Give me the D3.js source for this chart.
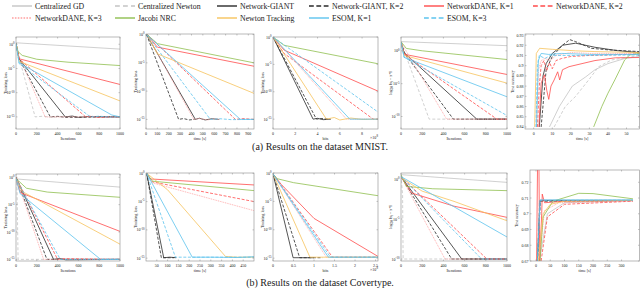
<!DOCTYPE html>
<html>
<head>
<meta charset="utf-8">
<script src="https://cdn.jsdelivr.net/npm/d3@7"></script>
<style>
body{margin:0;background:#fff;}
svg text{font-family:"Liberation Serif","DejaVu Serif",serif;fill:#222;}
.frame{fill:none;stroke:#8a8a8a;stroke-width:0.6;}
.tick{stroke:#8a8a8a;stroke-width:0.5;}
</style>
</head>
<body>
<script>
var width = 640, height = 291;

// series, legend order
var seriesKeys   = ["gd","newton","giant","giant2","dane1","dane2","dane3","jacobi","tracking","esom1","esom3"];
var seriesNames  = ["Centralized GD","Centralized Newton","Network-GIANT","Network-GIANT, K=2","NetworkDANE, K=1",
                    "NetworkDANE, K=2","NetworkDANE, K=3","Jacobi NRC","Newton Tracking","ESOM, K=1","ESOM, K=3"];
var seriesColors = ["#c4c4c4","#c4c4c4","#2a2a2a","#2a2a2a","#ff4b4b","#ff4b4b","#ffa0a0","#8fbf4f","#f6c35c","#5cc3ee","#5cc3ee"];
var seriesDash   = ["","3,2","","3,1.6","","3,1.6","1,0.8","","","","3,1.6"];

// ---------- (a) MNIST ----------
var mnistIter = {
  gd:      [[0,2],[1000,0.1]],
  newton:  [[0,1.5],[20,1e-2],[184,1e-15],[260,1.4e-15],[340,0.8e-15],[450,1.2e-15],[600,0.9e-15],[1000,1e-15]],
  giant:   [[0,1.5],[30,1e-3],[474,1e-15],[540,1.5e-15],[600,0.8e-15],[700,1.2e-15],[1000,1e-15]],
  giant2:  [[0,1.5],[30,1e-3],[330,1e-15],[400,1.3e-15],[480,0.8e-15],[1000,1e-15]],
  dane1:   [[0,1.5],[30,1e-3],[1000,5e-9]],
  dane2:   [[0,1.5],[30,1e-3],[670,1e-15],[720,1.5e-15],[780,0.8e-15],[1000,1e-15]],
  dane3:   [[0,1.5],[20,1e-2],[280,1e-15],[1000,1e-15]],
  jacobi:  [[0,1.5],[20,0.03],[60,5e-3],[200,8e-4],[500,2e-4],[1000,4e-5]],
  tracking:[[0,1.5],[30,3e-4],[1000,2e-12]],
  esom1:   [[0,1.5],[30,1.5e-4],[920,2.5e-15],[1000,1e-15]],
  esom3:   [[0,1.5],[30,1e-4],[716,1e-15],[800,1.4e-15],[900,0.9e-15],[1000,1e-15]]
};
var mnistTime = {
  giant:   [[5,1],[434,1e-15],[470,1.6e-15],[520,0.8e-15],[580,1.3e-15],[640,1e-15]],
  giant2:  [[5,1],[287,1e-15],[330,1.4e-15],[380,0.8e-15],[430,1e-15]],
  dane1:   [[10,1],[100,6e-3],[950,2.5e-6]],
  dane2:   [[10,1],[786,1e-15],[850,1.4e-15],[950,1e-15]],
  dane3:   [[10,1],[420,1e-15],[470,1.5e-15],[540,0.8e-15],[600,1.3e-15],[650,1e-15]],
  jacobi:  [[10,1],[100,0.025],[950,1e-5]],
  tracking:[[10,1],[100,4e-4],[950,4e-11]],
  esom1:   [[5,1],[830,1e-15],[950,1e-15]],
  esom3:   [[5,1],[566,1e-15],[650,1.3e-15],[750,0.9e-15],[950,1e-15]]
};
var mnistBits = {
  giant:   [[0,1],[3.6,1e-15],[4.0,1.4e-15],[4.5,0.8e-15],[5.2,1e-15]],
  giant2:  [[0,1],[3.9,1e-15],[4.4,1.3e-15],[5.0,1e-15]],
  dane1:   [[0,1],[1,4e-3],[9.43,1.3e-10]],
  dane2:   [[0,1],[1,1e-3],[9.0,1e-15],[9.43,1e-15]],
  dane3:   [[0,1],[6.6,1e-15],[9.43,1e-15]],
  jacobi:  [[0,1],[1,0.03],[9.43,1.3e-5]],
  tracking:[[0,1],[4.8,1e-15],[5.5,2e-15],[6,0.7e-15],[7,1.6e-15],[8,0.9e-15],[9.43,1e-15]],
  esom1:   [[0,1],[6.9,1e-15],[9.43,1e-15]],
  esom3:   [[0,1],[9.43,2e-14]]
};
var mnistDist = {
  gd:      [[0,25],[1000,6]],
  newton:  [[0,20],[266,4e-11],[1000,4e-11]],
  giant:   [[0,20],[30,0.5],[715,4e-11],[1000,4e-11]],
  giant2:  [[0,20],[30,0.5],[494,4e-11],[1000,4e-11]],
  dane1:   [[0,20],[30,0.3],[1000,2.5e-4]],
  dane2:   [[0,20],[30,0.3],[905,4e-11],[1000,4e-11]],
  dane3:   [[0,20],[430,4e-11],[1000,4e-11]],
  jacobi:  [[0,25],[50,2.3],[200,1],[1000,0.047]],
  tracking:[[0,20],[30,0.2],[1000,1.2e-5]],
  esom1:   [[0,20],[30,0.1],[1000,1e-7]],
  esom3:   [[0,20],[30,0.1],[1000,1.4e-10]]
};
var mnistAcc = {
  gd:      [[8.5,0.84],[13.8,0.86],[20.8,0.88],[28,0.889],[33,0.896],[40,0.902],[49,0.907],[57,0.909]],
  newton:  [[11,0.84],[17,0.86],[22.6,0.87],[29.6,0.886],[35,0.899],[42,0.9056],[57,0.91]],
  giant:   [[3,0.84],[5,0.89],[6.7,0.902],[10,0.912],[15.5,0.92],[22.6,0.922],[33,0.918],[45,0.9147],[57,0.9128]],
  giant2:  [[4,0.84],[6.7,0.896],[10,0.909],[15.5,0.92],[19.4,0.9255],[22.6,0.9235],[31,0.917],[40,0.9155],[57,0.9138]],
  dane1:   [[2.8,0.84],[4,0.883],[5.8,0.891],[7,0.876],[8.1,0.867],[9.3,0.88],[11,0.886],[12.9,0.894],[14,0.886],
            [15.5,0.896],[19,0.899],[26,0.902],[33,0.905],[44,0.9077],[57,0.908]],
  dane2:   [[2,0.84],[3,0.88],[4,0.9],[5.5,0.905],[7,0.895],[8.5,0.903],[10,0.897],[12,0.905],[15,0.907],[20,0.909],[30,0.91],[57,0.9115]],
  dane3:   [[1.5,0.84],[2.5,0.895],[4,0.905],[6,0.907],[9,0.905],[12,0.91],[20,0.913],[30,0.912],[57,0.912]],
  jacobi:  [[32.3,0.84],[36.7,0.86],[40,0.873],[43.7,0.886],[46.4,0.896],[49,0.9056],[51.7,0.9105],[57,0.912]],
  tracking:[[0.5,0.84],[1.4,0.912],[3.2,0.917],[10,0.916],[22.6,0.9145],[33,0.9138],[57,0.9128]],
  esom1:   [[1.5,0.84],[2.5,0.905],[4,0.912],[8,0.911],[15,0.912],[30,0.911],[57,0.911]],
  esom3:   [[1.2,0.84],[2,0.9],[3,0.91],[6,0.907],[9,0.91],[15,0.91],[30,0.91],[57,0.9105]]
};

// ---------- (b) Covertype ----------
var covIter = {
  gd:      [[0,0.5],[1000,0.016]],
  newton:  [[0,1],[10,1e-2],[20,1e-15],[1000,1e-15]],
  giant:   [[0,1],[361,1e-15],[420,1.4e-15],[480,0.8e-15],[1000,1e-15]],
  giant2:  [[0,1],[297,1e-15],[1000,1e-15]],
  dane1:   [[0,0.6],[40,1.6e-3],[1000,1.3e-10]],
  dane2:   [[0,1],[400,1e-15],[460,1.4e-15],[1000,1e-15]],
  dane3:   [[0,1],[265,1e-15],[1000,1e-15]],
  jacobi:  [[0,0.6],[100,0.01],[300,2e-3],[1000,2.2e-4]],
  tracking:[[0,0.6],[60,2.5e-3],[1000,6e-13]],
  esom1:   [[0,0.6],[40,1e-3],[813,1e-15],[1000,1e-15]],
  esom3:   [[0,0.6],[426,1e-15],[1000,1e-15]]
};
var covTime = {
  giant:   [[3,1],[82,1.2e-15],[110,1.5e-15],[140,1.2e-15]],
  giant2:  [[3,1],[71,1.2e-15],[130,1.2e-15]],
  dane1:   [[3,1],[20,0.1],[500,8.7e-3]],
  dane2:   [[3,1],[30,0.03],[500,1e-5]],
  dane3:   [[3,1],[30,0.02],[500,2.5e-7]],
  jacobi:  [[3,1],[30,0.04],[500,8.7e-4]],
  tracking:[[3,1],[100,1.2e-3],[368,2e-15],[420,1.5e-15],[500,1.5e-15]],
  esom1:   [[3,1],[214,1.5e-15],[300,1.5e-15],[420,1.3e-15],[500,1.8e-15]],
  esom3:   [[3,1],[136,1.5e-15],[500,1.5e-15]]
};
var covBits = {
  giant:   [[0,0.7],[0.49,1.2e-15],[1.0,1.2e-15]],
  giant2:  [[0,0.7],[0.65,1.2e-15],[1.2,1.2e-15]],
  dane1:   [[0,0.7],[0.2,0.01],[1,1e-8],[2.56,2e-15]],
  dane2:   [[0,0.7],[1.45,1.5e-15],[2.56,1.5e-15]],
  dane3:   [[0,0.7],[1.3,1.5e-15],[2.56,1.5e-15]],
  jacobi:  [[0,0.7],[0.1,0.1],[0.5,0.02],[2.56,1e-4]],
  tracking:[[0,0.7],[0.9,1.5e-15],[2.56,1.5e-15]],
  esom1:   [[0,0.7],[1.35,1.5e-15],[2.56,1.5e-15]],
  esom3:   [[0,0.7],[1.4,1.5e-15],[2.56,1.5e-15]]
};
var covDist = {
  gd:      [[0,3.5],[1000,0.38]],
  newton:  [[0,3],[15,1e-2],[20,1e-10],[1000,1e-10]],
  giant:   [[0,2],[573,1e-10],[1000,1e-10]],
  giant2:  [[0,2],[478,1e-10],[1000,1e-10]],
  dane1:   [[0,2],[100,0.018],[500,4e-4],[1000,1.6e-5]],
  dane2:   [[0,2],[810,1e-10],[1000,1e-10]],
  dane3:   [[0,2],[415,1e-10],[1000,1e-10]],
  jacobi:  [[0,3.5],[50,0.12],[300,0.06],[1000,0.035]],
  tracking:[[0,1.5],[200,0.03],[500,1.6e-3],[1000,6e-6]],
  esom1:   [[0,2],[1000,5.6e-8]],
  esom3:   [[0,2],[760,1e-10],[1000,1e-10]]
};
var covAcc = {
  jacobi:  [[14,0.67],[25,0.698],[60,0.708],[150,0.713],[200,0.7128],[340,0.7095]],
  tracking:[[8,0.67],[25,0.7],[50,0.706],[100,0.708],[340,0.7085]],
  giant:   [[5,0.67],[14,0.7085],[340,0.7085]],
  giant2:  [[6,0.67],[15,0.708],[340,0.7083]],
  dane1:   [[2,0.67],[6,0.74],[10,0.74],[13,0.67],[20,0.70],[22,0.7125],[30,0.707],[100,0.708],[340,0.7083]],
  dane2:   [[18,0.67],[40,0.698],[100,0.706],[340,0.708]],
  dane3:   [[10,0.67],[30,0.702],[80,0.707],[340,0.708]],
  gd:      [[12,0.67],[40,0.7],[100,0.707],[340,0.7085]],
  newton:  [[4,0.67],[12,0.708],[340,0.7085]],
  esom1:   [[5,0.67],[14,0.7088],[340,0.7088]],
  esom3:   [[5,0.67],[15,0.7085],[340,0.7086]]
};

var logTicks = [1,1e-5,1e-10,1e-15];
var distTicks = [1,1e-5,1e-10];
var iterTicks = [0,200,400,600,800,1000];

var svg = d3.select("body").append("svg").attr("width", width).attr("height", height);

// legend
var legendRows = [[0,1,2,3,4,5],[6,7,8,9,10]];
var legendX = [12,115,217,309,424,533];
var legendY = [6,18];
legendRows.forEach(function(row, r){
  row.forEach(function(si, c){
    var g = svg.append("g").attr("transform","translate(" + legendX[c] + "," + legendY[r] + ")");
    g.append("line").attr("x1",0).attr("x2",20).attr("y1",0).attr("y2",0)
      .attr("stroke",seriesColors[si]).attr("stroke-width",1.4)
      .attr("stroke-dasharray",seriesDash[si] ? seriesDash[si].split(",").map(function(d){return d*1.6;}).join(",") : null);
    g.append("text").attr("x",23).attr("y",2.6).attr("font-size",7.8).text(seriesNames[si]);
  });
});

function powLabel(sel, e){
  sel.text("10");
  sel.append("tspan").attr("dy",-1.6).attr("font-size",3).text(e);
}

var clipId = 0;
function drawPanel(cfg){
  var x = d3.scaleLinear().domain(cfg.xd).range([cfg.l, cfg.r]);
  var y = (cfg.ylog ? d3.scaleLog() : d3.scaleLinear()).domain(cfg.yd).range([cfg.b, cfg.t]);
  var g = svg.append("g");
  var id = "clip" + (clipId++);
  g.append("clipPath").attr("id", id).append("rect")
    .attr("x", cfg.l).attr("y", cfg.t).attr("width", cfg.r - cfg.l).attr("height", cfg.b - cfg.t);

  var line = d3.line().x(function(d){return x(d[0]);}).y(function(d){return y(d[1]);});
  var lines = g.append("g").attr("clip-path","url(#" + id + ")");
  seriesKeys.forEach(function(k, i){
    if(!cfg.data[k]) return;
    lines.append("path").attr("d", line(cfg.data[k])).attr("fill","none")
      .attr("stroke", seriesColors[i]).attr("stroke-width", 0.8)
      .attr("stroke-dasharray", seriesDash[i] || null);
  });

  // ticks
  cfg.xt.forEach(function(v){
    var px = x(v);
    g.append("line").attr("class","tick").attr("x1",px).attr("x2",px).attr("y1",cfg.b).attr("y2",cfg.b-1.5);
    g.append("line").attr("class","tick").attr("x1",px).attr("x2",px).attr("y1",cfg.t).attr("y2",cfg.t+1.5);
    g.append("text").attr("x",px).attr("y",cfg.b+5.5).attr("font-size",4).attr("text-anchor","middle")
      .text(cfg.xf ? cfg.xf(v) : v);
  });
  cfg.yt.forEach(function(v){
    var py = y(v);
    g.append("line").attr("class","tick").attr("x1",cfg.l).attr("x2",cfg.l+1.5).attr("y1",py).attr("y2",py);
    g.append("line").attr("class","tick").attr("x1",cfg.r).attr("x2",cfg.r-1.5).attr("y1",py).attr("y2",py);
    var t = g.append("text").attr("x",cfg.l-1.5).attr("y",py+1.5).attr("font-size",4).attr("text-anchor","end");
    if(cfg.ylog) powLabel(t, Math.round(Math.log10(v)));
    else t.text(cfg.yf(v));
  });
  g.append("rect").attr("class","frame").attr("x",cfg.l).attr("y",cfg.t)
    .attr("width",cfg.r-cfg.l).attr("height",cfg.b-cfg.t);

  g.append("text").attr("x",(cfg.l+cfg.r)/2).attr("y",cfg.b+10.5).attr("font-size",4)
    .attr("text-anchor","middle").text(cfg.xl);
  if(cfg.xm){
    var m = g.append("text").attr("x",cfg.r-4).attr("y",cfg.b+10).attr("font-size",4).attr("text-anchor","middle").text("\u00d710");
    m.append("tspan").attr("dy",-1.6).attr("font-size",3).text(cfg.xm);
  }
  var yl = g.append("text").attr("transform","translate(" + (cfg.l - cfg.yo) + "," + ((cfg.t+cfg.b)/2) + ") rotate(-90)")
    .attr("font-size",4.2).attr("text-anchor","middle");
  if(cfg.dist){
    yl.text("log");
    yl.append("tspan").attr("dy",1).attr("font-size",3).text("10");
    yl.append("tspan").attr("dy",-1).text(" \u2016x");
    yl.append("tspan").attr("dy",1).attr("font-size",3).text("t");
    yl.append("tspan").attr("dy",-1).text(" \u2212 x*\u2016");
  } else yl.text(cfg.yl);
}

var acc = function(v){ return d3.format(".2~f")(v); };

// row (a)
drawPanel({l:16,r:120,t:37,b:129, xd:[0,1000], yd:[Math.pow(10,-17.5),Math.pow(10,1.5)], ylog:true,
  data:mnistIter, xt:iterTicks, yt:logTicks, xl:"Iterations", yl:"Training loss", yo:9});
drawPanel({l:146,r:254,t:34,b:129, xd:[0,950], yd:[Math.pow(10,-16.7),Math.pow(10,0.1)], ylog:true,
  data:mnistTime, xt:[0,100,200,300,400,500,600,700,800,900], yt:logTicks, xl:"time [s]", yl:"Training loss", yo:9});
drawPanel({l:273,r:378,t:37,b:129, xd:[0,9.43], yd:[Math.pow(10,-16.8),1], ylog:true,
  data:mnistBits, xt:[0,2,4,6,8], yt:logTicks, xl:"bits", xm:"8", yl:"Training loss", yo:9});
drawPanel({l:401,r:507,t:37,b:129, xd:[0,1000], yd:[Math.pow(10,-11.9),Math.pow(10,2.1)], ylog:true,
  data:mnistDist, xt:iterTicks, yt:distTicks, xl:"Iterations", dist:true, yo:9});
drawPanel({l:525,r:639.5,t:34,b:129, xd:[-4.7,57], yd:[0.838,0.931], ylog:false,
  data:mnistAcc, xt:[0,10,20,30,40,50], yt:d3.range(0.84,0.935,0.01), yf:acc, xl:"time [s]", yl:"Test accuracy", yo:11});

svg.append("text").attr("x",320).attr("y",150).attr("font-size",10).attr("text-anchor","middle")
  .text("(a) Results on the dataset MNIST.");

// row (b)
drawPanel({l:16,r:120,t:174,b:261, xd:[0,1000], yd:[Math.pow(10,-15.3),Math.pow(10,0.6)], ylog:true,
  data:covIter, xt:iterTicks, yt:logTicks, xl:"Iterations", yl:"Training loss", yo:9});
drawPanel({l:146,r:254,t:173,b:261, xd:[0,500], yd:[Math.pow(10,-15.5),Math.pow(10,0.05)], ylog:true,
  data:covTime, xt:[50,100,150,200,250,300,350,400,450], yt:logTicks, xl:"time [s]", yl:"Training loss", yo:9});
drawPanel({l:273,r:378,t:173,b:261, xd:[0,2.56], yd:[Math.pow(10,-15.5),1], ylog:true,
  data:covBits, xt:[0,0.5,1,1.5,2,2.5], yt:logTicks, xl:"bits", xm:"8", yl:"Training loss", yo:9});
drawPanel({l:401,r:507,t:173,b:261, xd:[0,1000], yd:[Math.pow(10,-10.25),Math.pow(10,0.75)], ylog:true,
  data:covDist, xt:iterTicks, yt:distTicks, xl:"Iterations", dist:true, yo:9});
drawPanel({l:530,r:639.5,t:170,b:261, xd:[-21,363], yd:[0.67,0.7278], ylog:false,
  data:covAcc, xt:[0,50,100,150,200,250,300], yt:d3.range(0.67,0.7205,0.01), yf:acc, xl:"time [s]", yl:"Test accuracy", yo:12});

svg.append("text").attr("x",320).attr("y",286).attr("font-size",10).attr("text-anchor","middle")
  .text("(b) Results on the dataset Covertype.");
</script>
</body>
</html>
